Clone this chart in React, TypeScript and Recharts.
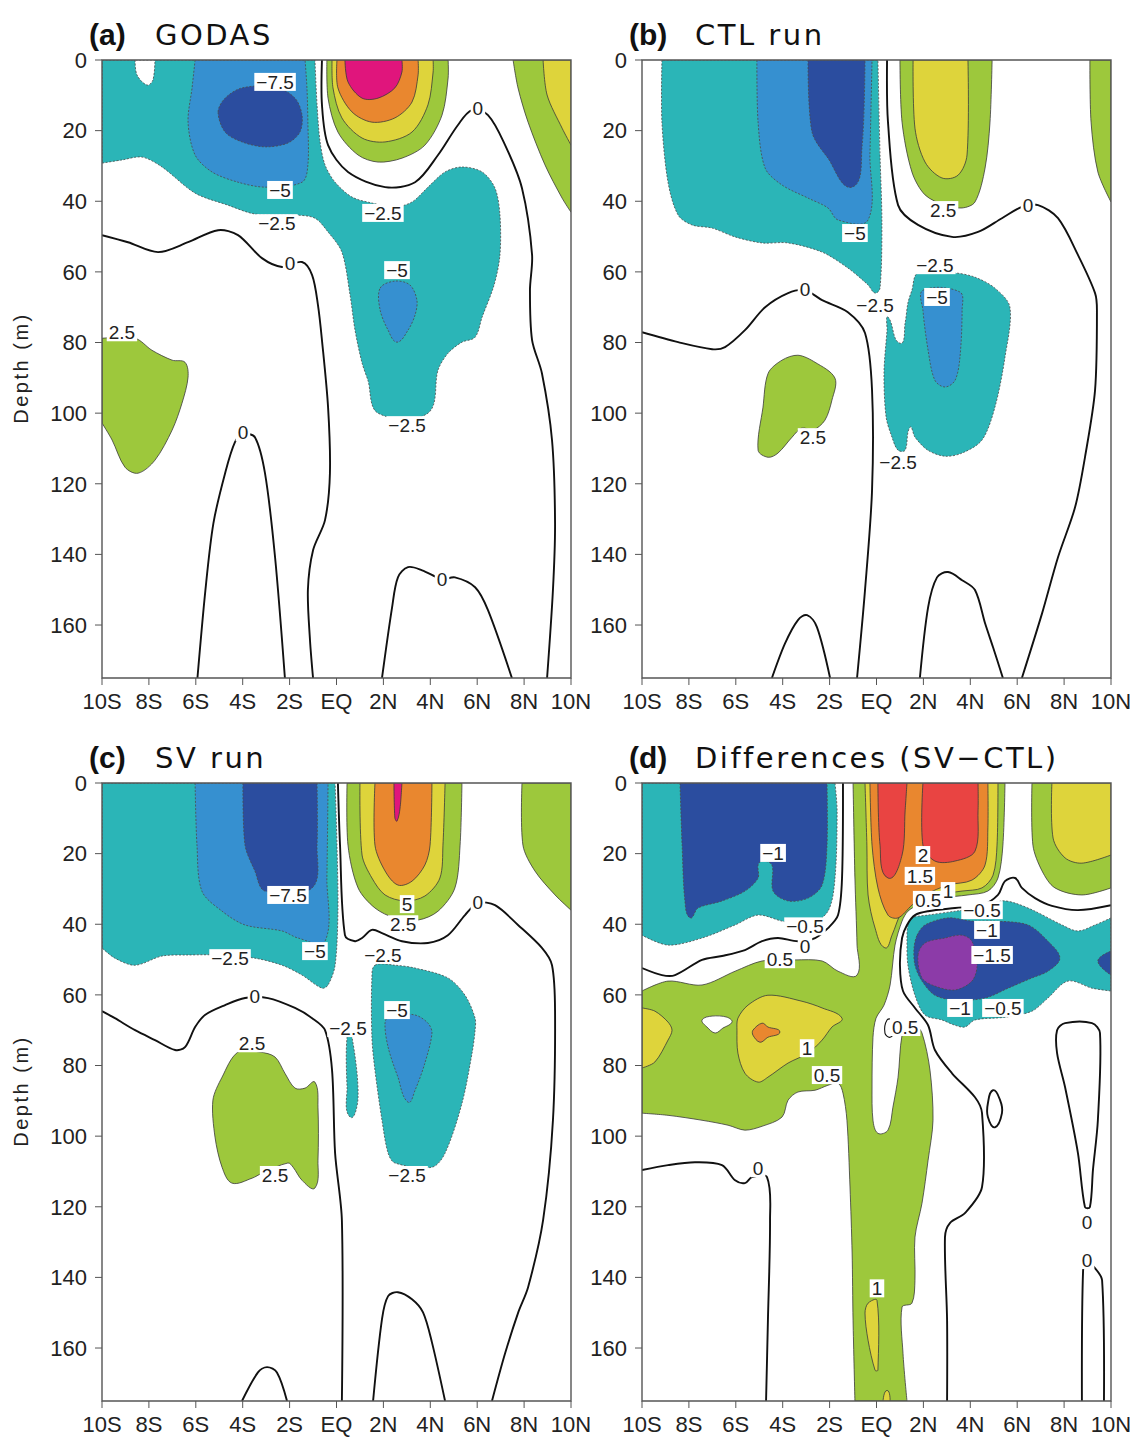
import React from 'react';
import { ScatterChart, Scatter, XAxis, YAxis } from 'recharts';

type Pt = [number, number];
type Lbl = [number, number, string];

// ---------- axes ----------
const LAT_TICKS = [-10, -8, -6, -4, -2, 0, 2, 4, 6, 8, 10];
const LAT_TICK_LABELS = ['10S', '8S', '6S', '4S', '2S', 'EQ', '2N', '4N', '6N', '8N', '10N'];
const DEPTH_TICKS = [0, 20, 40, 60, 80, 100, 120, 140, 160];
const LAT_DOMAIN: [number, number] = [-10, 10];
const DEPTH_DOMAIN: [number, number] = [0, 175];

// ---------- (a) GODAS ----------
const aCyan: Pt[] = [[-10,0],[-0.92,0],[-0.83,12.7],[-0.70,23.2],[-0.49,29.7],[-0.06,34.6],[0.66,38.8],[1.51,40.5],[2.49,41.6],[3.22,40.2],[3.90,36.0],[4.63,31.7],[5.35,30.3],[6.21,31.7],[6.76,36.3],[6.97,43.9],[6.97,55.2],[6.72,63.7],[6.21,72.8],[5.91,78.5],[5.35,79.9],[4.76,83.0],[4.33,87.8],[3.90,100],[1.77,100],[1.34,90.7],[1.09,85.8],[0.79,76.5],[0.58,66.6],[0.23,54.4],[-0.36,48.7],[-0.92,44.8],[-1.77,43.9],[-3.48,43.6],[-4.63,41.1],[-6.03,37.7],[-7.44,30.3],[-8.29,27.5],[-9.15,28.3],[-10,29.2]];
const aWhite: Pt[] = [[-8.59,0],[-8.51,4.2],[-8.08,7.1],[-7.83,5.7],[-7.74,0]];
const aBlue: Pt[] = [[-6.03,0],[-6.16,7.9],[-6.33,17.6],[-6.03,26.9],[-5.31,31.7],[-4.20,34.6],[-3.05,36.0],[-1.47,34.6],[-1.22,29.7],[-1.22,17.6],[-1.26,7.9],[-1.34,0]];
const aDBlue: Pt[] = [[-5.05,14.7],[-4.75,10.8],[-4.03,7.9],[-2.62,7.6],[-1.77,10.8],[-1.47,15.6],[-1.56,20.4],[-2.07,23.5],[-3.05,24.6],[-4.03,23.2],[-4.75,20.4]];
const aBlue2: Pt[] = [[1.86,64.6],[2.49,62.6],[3.13,63.7],[3.43,68],[3.35,72.2],[3.05,76.5],[2.58,79.9],[2.20,76.5],[1.86,70.8]];
const aGreen: Pt[] = [[-0.41,0],[-0.36,10.8],[0.06,20.4],[0.92,26.9],[1.77,28.9],[2.79,27.8],[3.77,24.1],[4.50,15.6],[4.76,5.1],[4.76,0]];
const aYellow: Pt[] = [[-0.19,0],[-0.15,7.9],[0.23,16.4],[1.09,22.1],[2.07,23.2],[3.22,20.4],[3.90,12.7],[4.12,3.4],[4.12,0]];
const aOrange: Pt[] = [[0.02,0],[0.06,7.9],[0.66,14.7],[1.51,17.6],[2.49,16.4],[3.22,11.9],[3.48,4.2],[3.48,0]];
const aPink: Pt[] = [[0.36,0],[0.49,6.2],[1.09,10.8],[1.77,10.8],[2.49,7.9],[2.79,3.4],[2.79,0]];
const aGreenR: Pt[] = [[7.53,0],[7.74,7.9],[8.17,17.6],[8.89,29.7],[9.62,39.1],[10,43.1],[10,0]];
const aYellowR: Pt[] = [[8.81,0],[8.98,9.9],[9.62,19.3],[10,24.1],[10,0]];
const aGreenL: Pt[] = [[-10,78.8],[-8.59,78.8],[-7.87,82.2],[-7.01,85],[-6.46,85.6],[-6.33,89.8],[-6.59,97.2],[-7.01,104.8],[-7.74,113.3],[-8.46,117],[-9.02,115.3],[-9.57,107.6],[-10,102.8]];
const aZero1: Pt[] = [[-0.62,0],[-0.62,12.7],[-0.36,24.1],[0.49,31.7],[2.07,36.0],[3.35,34.6],[4.33,26.9],[5.18,18.4],[5.78,14.2],[6.46,15.6],[7.19,24.1],[7.91,36.3],[8.34,55.2],[8.25,65.2],[8.34,79.3],[8.76,88.7],[9.19,107.6],[9.32,131.2],[9.23,150.1],[8.98,175]];
const aZero2: Pt[] = [[-10,49.6],[-8.89,51.6],[-7.61,54.4],[-6.33,51.6],[-5.05,48.2],[-4.20,49.6],[-3.18,56.1],[-2.32,58.6],[-1.47,57.2],[-1.04,60.9],[-0.79,69.4],[-0.62,79.3],[-0.36,98.3],[-0.28,117],[-0.49,130.3],[-1.00,138.8],[-1.22,150.1],[-1.13,164.3],[-1.00,175]];
const aZero3: Pt[] = [[-5.93,175],[-5.59,150.1],[-5.25,131.2],[-4.75,117],[-4.33,108.2],[-3.99,106],[-3.48,106.8],[-3.05,117],[-2.62,140.8],[-2.20,175]];
const aZero4: Pt[] = [[1.94,175],[2.37,155],[2.62,146.5],[3.05,143.6],[3.65,144.5],[4.50,147],[5.05,146.5],[5.91,149.3],[6.46,155.8],[7.48,175]];
const aLabels: Lbl[] = [[-2.62,6.2,'\u22127.5'],[-2.41,36.8,'\u22125'],[-2.54,46.2,'\u22122.5'],[1.98,43.3,'\u22122.5'],[2.58,59.5,'\u22125'],[3.01,103.4,'\u22122.5'],[-9.15,77.1,'2.5'],[6.03,13.6,'0'],[-1.98,57.5,'0'],[-3.99,105.4,'0'],[4.50,147,'0']];

// ---------- (b) CTL run ----------
const bCyan: Pt[] = [[-9.15,0],[-9.15,17.6],[-8.89,34.6],[-8.46,43.9],[-7.87,46.7],[-7.01,47.6],[-6.03,50.1],[-4.88,51.8],[-3.77,51.8],[-2.32,54.4],[-1.22,58.9],[-0.36,63.7],[-0.06,66],[0.15,64.6],[0.23,45.9],[0.15,26.9],[0.06,0]];
const bBlue: Pt[] = [[-5.10,0],[-5.05,17.6],[-4.75,30.6],[-4.03,35.4],[-2.92,39.1],[-2.07,41.9],[-1.64,45.3],[-0.36,45.3],[-0.28,26.9],[-0.19,0]];
const bDBlue: Pt[] = [[-2.92,0],[-2.75,20.4],[-2.07,27.8],[-1.04,36],[-0.62,24.9],[-0.49,0]];
const bGreen: Pt[] = [[1.00,0],[1.09,17.6],[1.51,31.7],[2.07,38.2],[2.92,41.1],[3.65,41.9],[4.20,40.2],[4.63,30.6],[4.84,17.6],[4.93,0]];
const bYellow: Pt[] = [[1.56,0],[1.64,19.3],[2.07,28.9],[2.79,33.4],[3.48,32.6],[3.86,26.9],[3.90,0]];
const bGreenR: Pt[] = [[9.10,0],[9.15,17.6],[9.44,31.7],[10,40.2],[10,0]];
const bGreenL: Pt[] = [[-4.62,88.7],[-4.03,85],[-3.35,83.6],[-2.62,85.6],[-1.77,90.1],[-1.90,96.3],[-2.20,102],[-2.71,104.8],[-3.18,104.2],[-3.60,106.8],[-4.20,111.3],[-4.62,112.5],[-5.05,110.5],[-4.84,98.3]];
const bCyan2: Pt[] = [[1.77,60.3],[3.35,60.3],[4.20,61.5],[5.05,64.6],[5.69,70],[5.48,84.1],[5.05,98.3],[4.50,107.6],[3.65,111.3],[2.92,112.2],[2.19,110.5],[1.64,106.8],[1.43,104],[1.22,110.5],[0.92,110.5],[0.66,106.8],[0.41,101.1],[0.32,88.7],[0.45,76.5],[0.49,72.8],[1.00,80.2],[1.22,74.5],[1.34,68.8],[1.51,65.2]];
const bBlue2: Pt[] = [[1.98,65.2],[3.56,65.7],[3.65,70.8],[3.56,84.1],[3.35,90.7],[2.92,92.6],[2.49,90.7],[2.20,82.2],[1.98,70.8]];
const bZero1: Pt[] = [[0.45,0],[0.49,17.6],[0.92,41.1],[1.77,46.7],[3.22,50.1],[4.33,48.7],[5.35,44.8],[6.20,41.6],[6.89,41.1],[7.74,44.8],[8.59,55.2],[9.32,66],[9.40,70.8],[9.32,93.5],[8.89,112.5],[8.47,126.6],[7.74,140.8],[7.06,156.7],[6.20,175]];
const bZero2: Pt[] = [[-10,77.1],[-8.46,79.9],[-7.01,81.9],[-6.46,81.3],[-5.61,76.5],[-4.75,70],[-3.77,66],[-3.05,65.2],[-2.32,68],[-1.22,71.4],[-0.49,77.3],[-0.19,93.5],[-0.19,121.8],[-0.49,150.1],[-0.83,175]];
const bZero3: Pt[] = [[-4.46,175],[-3.90,165.2],[-3.35,158.6],[-2.96,157.2],[-2.54,160.6],[-1.98,175]];
const bZero4: Pt[] = [[1.85,175],[2.20,155],[2.58,146.5],[3.05,145],[3.65,147.3],[4.20,150.1],[4.63,159.5],[4.97,166.3],[5.39,175]];
const bLabels: Lbl[] = [[-0.92,49,'\u22125'],[2.84,42.5,'2.5'],[6.46,41.1,'0'],[-3.05,65,'0'],[2.49,58.1,'\u22122.5'],[2.58,67.1,'\u22125'],[-0.06,69.4,'\u22122.5'],[-2.71,106.8,'2.5'],[0.92,113.9,'\u22122.5']];

// ---------- (c) SV run ----------
const cCyan: Pt[] = [[-10,0],[-10,46.7],[-9.45,49.6],[-8.59,51.6],[-7.44,49],[-6.33,48.7],[-4.97,48.7],[-3.48,49.6],[-2.32,51.6],[-1.47,54.4],[-0.62,58.1],[-0.36,57.2],[-0.06,51.6],[0.06,36.3],[0.02,17.6],[-0.06,0]];
const cBlue: Pt[] = [[-6.03,0],[-5.95,17.6],[-5.74,30.6],[-4.88,36.3],[-3.90,40.2],[-2.32,41.9],[-1.64,43.9],[-0.49,44.8],[-0.41,26.9],[-0.36,0]];
const cDBlue: Pt[] = [[-3.99,0],[-3.90,17.6],[-3.48,24.9],[-3.05,30.6],[-1.04,29.7],[-0.83,17.6],[-0.83,0]];
const cGreen: Pt[] = [[0.45,0],[0.49,17.6],[0.92,29.7],[1.64,35.4],[2.49,38.2],[3.48,38.8],[4.33,36.3],[5.05,29.7],[5.27,17.6],[5.35,0]];
const cYellow: Pt[] = [[1.00,0],[1.09,20.4],[1.51,26.9],[2.07,31.7],[2.92,33.4],[3.77,32],[4.41,26.9],[4.54,17.6],[4.63,0]];
const cOrange: Pt[] = [[1.64,0],[1.64,17.6],[2.07,24.9],[2.62,28.9],[3.22,27.8],[3.77,23.2],[3.99,17.6],[4.07,0]];
const cPink: Pt[] = [[2.45,0],[2.49,9.9],[2.58,10.8],[2.71,7.1],[2.79,0]];
const cGreenR: Pt[] = [[7.91,0],[7.95,17.6],[8.46,24.9],[9.32,31.7],[10,36],[10,0]];
const cGreenL: Pt[] = [[-4.20,76.2],[-3.26,76.2],[-2.62,77.6],[-2.20,82.2],[-1.77,86.4],[-1.34,86.4],[-0.92,84.7],[-0.79,91.8],[-0.79,106.8],[-0.92,114.7],[-1.47,112.5],[-1.85,108.8],[-2.07,107.6],[-3.18,110.5],[-3.60,111.9],[-4.46,113.3],[-4.88,108.8],[-5.18,100.3],[-5.27,89.8],[-4.88,83.3]];
const cSliver: Pt[] = [[0.45,72],[0.66,72],[0.92,89],[0.58,94.6],[0.45,86.1]];
const cCyan2: Pt[] = [[1.64,51.6],[2.49,51.6],[3.35,52.4],[4.75,55.2],[5.48,60.1],[5.91,66.6],[5.91,70],[5.78,76.5],[5.35,90.7],[4.63,104.8],[4.07,108.8],[2.49,107.6],[2.20,104.8],[1.94,95.5],[1.64,81.3],[1.51,72],[1.51,55.2]];
const cBlue2: Pt[] = [[2.28,65.7],[3.35,65.7],[3.90,68],[4.07,70.8],[3.77,79.3],[3.35,87],[3.05,90.4],[2.62,83.3],[2.20,74.8],[2.07,68]];
const cZero1: Pt[] = [[0.06,0],[0.15,17.6],[0.36,43.1],[0.79,44.8],[1.09,43.9],[1.51,41.6],[1.94,42.5],[2.79,44.8],[3.90,45.3],[4.75,43.1],[5.48,37.4],[6.03,34],[6.76,34.6],[7.74,40.2],[8.76,46.7],[9.19,51.6],[9.32,64.6],[9.23,95.5],[8.81,123.8],[8.17,142.8],[7.74,150.1],[7.19,161.5],[6.63,175]];
const cZero2: Pt[] = [[-10,64.6],[-9.45,66.6],[-8.59,70],[-7.74,72.8],[-6.88,75.6],[-6.46,74.8],[-6.03,69.1],[-5.61,65.7],[-4.75,62.9],[-3.90,60.9],[-2.92,60.9],[-1.77,63.7],[-1.04,66.6],[-0.49,70],[-0.19,81.3],[-0.06,104.8],[0.23,123.8],[0.23,175]];
const cZero3: Pt[] = [[-4.03,175],[-3.35,166.9],[-2.96,165.4],[-2.54,166.9],[-2.11,175]];
const cZero4: Pt[] = [[1.56,175],[1.94,151.8],[2.20,145.3],[2.62,144.2],[3.22,146.2],[3.69,149.9],[4.07,158.4],[4.63,175]];
const cLabels: Lbl[] = [[-2.07,31.7,'\u22127.5'],[-0.92,47.6,'\u22125'],[-4.54,49.6,'\u22122.5'],[1.98,48.7,'\u22122.5'],[3.01,34.3,'5'],[2.84,40.0,'2.5'],[6.03,33.7,'0'],[-3.48,60.3,'0'],[2.58,64.3,'\u22125'],[0.49,69.4,'\u22122.5'],[-3.60,73.7,'2.5'],[-2.62,111,'2.5'],[3.01,111,'\u22122.5']];

// ---------- (d) Differences (SV-CTL) ----------
const dCyanUL: Pt[] = [[-10,0],[-10,43.1],[-8.89,45.9],[-7.44,43.9],[-6.03,40.2],[-5.05,37.4],[-4.03,39.1],[-2.92,40.2],[-2.07,36.3],[-1.77,26.9],[-1.68,7.9],[-1.77,0]];
const dBlueUL: Pt[] = [[-8.38,0],[-8.29,17.6],[-8.17,33.4],[-7.95,38.2],[-7.61,35.4],[-6.59,33.4],[-5.61,30.6],[-5.05,26.9],[-5.05,23.2],[-4.88,22.1],[-4.46,23.2],[-4.41,30.6],[-3.77,33.4],[-2.92,32.6],[-2.32,28.9],[-2.11,17.6],[-2.11,0]];
const dGreen: Pt[] = [[-1.00,0],[-0.92,26.9],[-0.83,45.9],[-0.83,54.4],[-1.64,53.3],[-2.32,50.4],[-3.48,50.1],[-4.88,50.4],[-6.03,53.3],[-7.44,57.2],[-8.89,56.1],[-10,58.9],[-10,93.5],[-8.89,94.1],[-7.44,95.5],[-6.33,96.9],[-5.61,98.3],[-4.88,97.2],[-4.03,94.6],[-3.77,89.8],[-3.35,87.5],[-2.62,87],[-2.07,85.6],[-1.64,85],[-1.43,87.8],[-1.26,95.5],[-1.13,114.4],[-1.04,133.1],[-1.00,152.1],[-0.92,175],[1.30,175],[1.13,161.5],[1.09,148.4],[1.51,147.3],[1.64,140.8],[1.64,128.6],[1.94,119],[2.20,106.8],[2.41,95.5],[2.28,81.3],[1.94,70.8],[1.64,68.6],[1.34,69.1],[1.09,71.4],[0.92,83.3],[0.70,91.8],[0.49,98.3],[0.06,99.2],[-0.15,95.5],[-0.19,86.1],[-0.15,72],[-0.02,66.6],[0.32,62.9],[0.58,57.2],[0.79,45.9],[1.09,39.1],[1.34,36.3],[1.77,34.6],[2.79,32.6],[3.90,31.7],[4.75,30.6],[5.18,26.9],[5.39,17.6],[5.48,0]];
const dWhiteHole: Pt[] = [[-7.44,67.1],[-7.01,66],[-6.38,66.3],[-6.16,67.7],[-6.55,69.4],[-6.88,70.8],[-7.23,69.1]];
const dYellowL: Pt[] = [[-10,63.7],[-9.45,64.6],[-8.89,67.7],[-8.72,70],[-8.89,72.8],[-9.45,79],[-10,80.7]];
const dYellowMid: Pt[] = [[-5.91,66.6],[-5.48,62.9],[-4.63,60.1],[-3.18,61.8],[-2.32,63.7],[-1.47,66.6],[-1.90,69.1],[-2.32,72.8],[-2.92,76.5],[-3.77,79.3],[-4.63,83.3],[-5.05,84.7],[-5.61,82.2],[-5.91,76.5],[-5.95,70]];
const dOrangeSmall: Pt[] = [[-5.27,70],[-4.88,68],[-4.63,69.1],[-4.12,70.5],[-4.63,72],[-4.97,73.4],[-5.27,71.4]];
const dYellowC: Pt[] = [[-0.49,0],[-0.41,17.6],[-0.36,31.7],[-0.06,41.1],[0.36,46.7],[0.66,43.1],[1.09,36.3],[1.64,33.4],[2.49,31.7],[3.65,30.6],[4.50,29.7],[4.97,26.1],[5.14,17.6],[5.18,0]];
const dOrangeC: Pt[] = [[-0.28,0],[-0.19,17.6],[0.06,29.7],[0.49,37.4],[0.92,38.2],[1.51,34.6],[2.07,31.7],[3.05,28.9],[4.07,27.5],[4.63,23.2],[4.75,12.7],[4.75,0]];
const dRedL: Pt[] = [[0.06,0],[0.15,17.6],[0.49,26.9],[1.09,20.4],[1.22,7.9],[1.30,0]];
const dRedR: Pt[] = [[1.98,0],[1.98,17.6],[2.49,22.1],[3.35,22.1],[4.20,19.3],[4.33,7.9],[4.33,0]];
const dYellowCol: Pt[] = [[-0.49,150.1],[-0.36,147.3],[0.02,146.5],[0.06,166.3],[-0.06,166.3],[-0.36,157.8]];
const dYellowBot: Pt[] = [[0.28,175],[0.45,172],[0.58,175]];
const dGreenR: Pt[] = [[6.63,0],[6.67,17.6],[7.06,24.9],[7.61,29.7],[8.76,31.7],[10,29.7],[10,0]];
const dYellowR: Pt[] = [[7.48,0],[7.53,15.6],[8.04,21.2],[8.76,22.7],[10,20.4],[10,0]];
const dCyanR: Pt[] = [[1.34,40.2],[1.51,38.2],[2.20,37.4],[3.35,36.3],[4.33,35.4],[5.35,33.4],[5.91,34],[6.76,36.3],[7.91,40.2],[8.59,41.9],[9.32,40.2],[10,38.2],[10,58.9],[9.19,58.1],[8.17,56.1],[7.31,60.9],[6.63,64.6],[5.5,66.3],[4.20,67.1],[3.77,69.1],[3.35,68.6],[2.79,67.1],[2.07,65.7],[1.64,60.1],[1.34,51.6],[1.30,43.9]];
const dBlueR: Pt[] = [[1.73,43.1],[2.07,40.2],[3.05,38.2],[4.07,39.1],[5.05,39.1],[6.46,40.2],[7.31,44.8],[7.82,49.6],[7.31,53.3],[6.63,55.2],[5.61,58.1],[4.63,60.9],[3.35,61.5],[2.49,60.1],[1.94,56.1],[1.64,51.6],[1.60,46.7]];
const dBlueEdge: Pt[] = [[9.44,50.4],[10,47.6],[10,54.4]];
const dPurple: Pt[] = [[1.77,48.7],[2.07,45.3],[2.92,43.9],[3.65,43.1],[4.07,44.8],[4.29,51.6],[4.07,56.1],[3.35,58.6],[2.49,57.5],[1.94,55.2]];
const dZeroA: Pt[] = [[-10,52.4],[-9.15,54.4],[-8.59,54.4],[-7.44,50.1],[-6.59,49],[-5.61,47.3],[-4.88,44.8],[-4.20,43.9],[-3.35,44.8],[-2.62,43.9],[-2.07,41.1],[-1.64,37.4],[-1.47,26.9],[-1.43,0]];
const dZeroB: Pt[] = [[10,34.6],[8.59,36],[7.48,34.8],[6.76,32.6],[6.20,29.7],[5.91,26.9],[5.48,27.8],[5.18,31.7],[4.50,34.6],[3.35,35.4],[2.20,36.3],[1.64,37.4],[1.30,40.2],[1.09,43.9],[1.00,51.6],[1.13,58.9],[1.64,63.7],[2.20,68.6],[2.49,75.6],[3.22,82.2],[4.20,89],[4.50,93.5],[4.50,114.4],[3.77,121.8],[3.13,124.6],[2.92,128.6],[3.01,152.1],[3.01,175]];
const dZeroC: Pt[] = [[-10,109.6],[-8.89,108.2],[-7.74,107.4],[-6.59,108.2],[-6.03,112.5],[-5.61,113.3],[-5.31,111.6],[-4.67,111.6],[-4.54,123.8],[-4.63,152.1],[-4.71,175]];
const dZeroE: Pt[] = [[4.75,90.7],[4.97,87],[5.27,89.8],[5.35,93.5],[5.05,97.5],[4.75,94.6]];
const dZeroF: Pt[] = [[7.70,70],[8.04,68],[9.19,68],[9.53,70.8],[9.44,95.5],[9.23,109.6],[9.10,120.1],[8.89,120.1],[8.59,104.8],[8.04,86.1],[7.70,76.5]];
const dZeroG: Pt[] = [[8.76,175],[8.81,138],[8.98,135.7],[9.32,137.4],[9.62,140.8],[9.70,175]];
const dLoop05: Pt[] = [[0.45,67.1],[0.36,70.8],[0.58,72],[0.79,70],[0.70,67.1]];
const dLabels: Lbl[] = [[-4.41,19.8,'\u22121'],[-3.05,46.3,'0'],[-3.05,40.6,'\u22120.5'],[-4.12,49.9,'0.5'],[1.98,20.4,'2'],[1.85,26.3,'1.5'],[3.05,30.6,'1'],[2.20,33.1,'0.5'],[4.71,41.6,'\u22121'],[4.50,36.0,'\u22120.5'],[4.93,48.7,'\u22121.5'],[3.56,63.7,'\u22121'],[5.39,63.7,'\u22120.5'],[1.22,69.1,'0.5'],[-2.96,75.1,'1'],[-2.11,82.7,'0.5'],[-5.05,109.1,'0'],[0.02,143.1,'1'],[8.98,124.4,'0'],[8.98,135.1,'0']];

// ---------- styling ----------
const COL: Record<string, string> = {
  cyan: '#2bb5b7', blue: '#3690d0', dblue: '#2b4d9f', green: '#9dc83c', yellow: '#ded43b',
  orange: '#e9872f', pink: '#e0157c', red: '#e94442', purple: '#8c3ba8', white: '#ffffff',
};
const FONT_SANS = '"Liberation Sans", Arial, Helvetica, sans-serif';
const FONT_TITLE = '"DejaVu Sans", "Liberation Sans", sans-serif';

type FillSpec = { pts: Pt[]; c: string; neg?: boolean };
type LineSpec = { pts: Pt[]; closed?: boolean; thin?: boolean };
type PanelSpec = { tag: string; title: string; left: number; top: number; depthLabel: boolean; fills: FillSpec[]; lines: LineSpec[]; labels: Lbl[] };

// chart geometry
const CH_W = 589;
const CH_H = 710;
const MARGIN = { top: 20, right: 20, bottom: 32, left: 40 };
const Y_AXIS_W = 60;
const X_AXIS_H = 40;
const PLOT = { x: MARGIN.left + Y_AXIS_W, y: MARGIN.top, w: CH_W - MARGIN.left - Y_AXIS_W - MARGIN.right, h: CH_H - MARGIN.top - MARGIN.bottom - X_AXIS_H };

const PANELS: PanelSpec[] = [
  {
    tag: '(a)', title: 'GODAS', left: 2, top: 40, depthLabel: true,
    fills: [
      { pts: aCyan, c: 'cyan', neg: true }, { pts: aWhite, c: 'white', neg: true }, { pts: aBlue, c: 'blue', neg: true },
      { pts: aDBlue, c: 'dblue', neg: true }, { pts: aBlue2, c: 'blue', neg: true }, { pts: aGreen, c: 'green' },
      { pts: aYellow, c: 'yellow' }, { pts: aOrange, c: 'orange' }, { pts: aPink, c: 'pink' },
      { pts: aGreenR, c: 'green' }, { pts: aYellowR, c: 'yellow' }, { pts: aGreenL, c: 'green' },
    ],
    lines: [{ pts: aZero1 }, { pts: aZero2 }, { pts: aZero3 }, { pts: aZero4 }],
    labels: aLabels,
  },
  {
    tag: '(b)', title: 'CTL run', left: 542, top: 40, depthLabel: false,
    fills: [
      { pts: bCyan, c: 'cyan', neg: true }, { pts: bBlue, c: 'blue', neg: true }, { pts: bDBlue, c: 'dblue', neg: true },
      { pts: bCyan2, c: 'cyan', neg: true }, { pts: bBlue2, c: 'blue', neg: true }, { pts: bGreen, c: 'green' },
      { pts: bYellow, c: 'yellow' }, { pts: bGreenR, c: 'green' }, { pts: bGreenL, c: 'green' },
    ],
    lines: [{ pts: bZero1 }, { pts: bZero2 }, { pts: bZero3 }, { pts: bZero4 }],
    labels: bLabels,
  },
  {
    tag: '(c)', title: 'SV run', left: 2, top: 763, depthLabel: true,
    fills: [
      { pts: cCyan, c: 'cyan', neg: true }, { pts: cBlue, c: 'blue', neg: true }, { pts: cDBlue, c: 'dblue', neg: true },
      { pts: cCyan2, c: 'cyan', neg: true }, { pts: cBlue2, c: 'blue', neg: true }, { pts: cSliver, c: 'cyan', neg: true },
      { pts: cGreen, c: 'green' }, { pts: cYellow, c: 'yellow' }, { pts: cOrange, c: 'orange' }, { pts: cPink, c: 'pink' },
      { pts: cGreenR, c: 'green' }, { pts: cGreenL, c: 'green' },
    ],
    lines: [{ pts: cZero1 }, { pts: cZero2 }, { pts: cZero3 }, { pts: cZero4 }],
    labels: cLabels,
  },
  {
    tag: '(d)', title: 'Differences (SV\u2212CTL)', left: 542, top: 763, depthLabel: false,
    fills: [
      { pts: dCyanUL, c: 'cyan', neg: true }, { pts: dBlueUL, c: 'dblue', neg: true }, { pts: dGreen, c: 'green' },
      { pts: dWhiteHole, c: 'white' }, { pts: dYellowL, c: 'yellow' }, { pts: dYellowMid, c: 'yellow' },
      { pts: dOrangeSmall, c: 'orange' }, { pts: dYellowC, c: 'yellow' }, { pts: dOrangeC, c: 'orange' },
      { pts: dRedL, c: 'red' }, { pts: dRedR, c: 'red' }, { pts: dYellowCol, c: 'yellow' }, { pts: dYellowBot, c: 'yellow' },
      { pts: dGreenR, c: 'green' }, { pts: dYellowR, c: 'yellow' }, { pts: dCyanR, c: 'cyan', neg: true },
      { pts: dBlueR, c: 'dblue', neg: true }, { pts: dBlueEdge, c: 'dblue', neg: true }, { pts: dPurple, c: 'purple', neg: true },
    ],
    lines: [
      { pts: dZeroA }, { pts: dZeroB }, { pts: dZeroC }, { pts: dZeroE, closed: true }, { pts: dZeroF, closed: true },
      { pts: dZeroG }, { pts: dLoop05, closed: true, thin: true },
    ],
    labels: dLabels,
  },
];

function onEdge(p: Pt) {
  return p[0] <= LAT_DOMAIN[0] || p[0] >= LAT_DOMAIN[1] || p[1] <= DEPTH_DOMAIN[0] || p[1] >= DEPTH_DOMAIN[1];
}

function buildPath(px: { x: number; y: number }[], raw: Pt[], closed: boolean, s = 0.3) {
  const n = px ? px.length : 0;
  if (n < 2) return '';
  const idx = (i: number) => (closed ? (i + n) % n : Math.max(0, Math.min(n - 1, i)));
  const f = (v: number) => v.toFixed(2);
  let d = `M${f(px[0].x)},${f(px[0].y)}`;
  const segs = closed ? n : n - 1;
  for (let i = 0; i < segs; i++) {
    const i0 = idx(i - 1), i1 = idx(i), i2 = idx(i + 1), i3 = idx(i + 2);
    const p0 = px[i0], p1 = px[i1], p2 = px[i2], p3 = px[i3];
    const e1 = onEdge(raw[i1]), e2 = onEdge(raw[i2]);
    if (e1 && e2) { d += `L${f(p2.x)},${f(p2.y)}`; continue; }
    const L = Math.hypot(p2.x - p1.x, p2.y - p1.y);
    let c1 = { x: p1.x, y: p1.y };
    let c2 = { x: p2.x, y: p2.y };
    if (!e1) {
      const dx = p2.x - p0.x, dy = p2.y - p0.y; const m = Math.hypot(dx, dy) || 1;
      c1 = { x: p1.x + (dx / m) * L * s, y: p1.y + (dy / m) * L * s };
    }
    if (!e2) {
      const dx = p3.x - p1.x, dy = p3.y - p1.y; const m = Math.hypot(dx, dy) || 1;
      c2 = { x: p2.x - (dx / m) * L * s, y: p2.y - (dy / m) * L * s };
    }
    d += `C${f(c1.x)},${f(c1.y)} ${f(c2.x)},${f(c2.y)} ${f(p2.x)},${f(p2.y)}`;
  }
  if (closed) d += 'Z';
  return d;
}

const noShape = () => <g />;

function labelWidth(t: string, fs: number) {
  let w = 0;
  for (const ch of t) w += ch === '.' ? 0.278 : ch === '\u2212' ? 0.584 : 0.556;
  return w * fs + 4;
}

function LabelShape(props: any) {
  const { cx, cy } = props;
  const t: string = (props.payload && props.payload.t) || props.t || '';
  const fs = 19;
  const w = labelWidth(t, fs);
  return (
    <g>
      <rect x={cx - w / 2} y={cy - 9} width={w} height={18} fill="#ffffff" />
      <text x={cx} y={cy + fs * 0.36} textAnchor="middle" fontSize={fs} fontFamily={FONT_SANS} fill="#222">{t}</text>
    </g>
  );
}

const fmtLat = (v: number) => {
  const i = LAT_TICKS.indexOf(v);
  return i >= 0 ? LAT_TICK_LABELS[i] : String(v);
};

function toData(pts: Pt[]) {
  return pts.map(([x, y]) => ({ x, y }));
}

function Panel({ spec, pi }: { spec: PanelSpec; pi: number }) {
  const frame: Pt[] = [
    [LAT_DOMAIN[0], DEPTH_DOMAIN[0]], [LAT_DOMAIN[1], DEPTH_DOMAIN[0]],
    [LAT_DOMAIN[1], DEPTH_DOMAIN[1]], [LAT_DOMAIN[0], DEPTH_DOMAIN[1]],
  ];
  const clipId = `plotclip-${pi}`;
  const tickStyle = { fontSize: 22, fill: '#222', fontFamily: FONT_SANS };
  return (
    <div style={{ position: 'absolute', left: spec.left, top: spec.top, width: CH_W, height: CH_H }}>
      <ScatterChart width={CH_W} height={CH_H} margin={MARGIN}>
        <XAxis type="number" dataKey="x" domain={LAT_DOMAIN} ticks={LAT_TICKS}
          interval={0} tickFormatter={fmtLat} axisLine={false} tickLine={{ stroke: '#555' }} tickSize={7} tickMargin={8}
          height={X_AXIS_H} tick={tickStyle} />
        <YAxis type="number" dataKey="y" domain={DEPTH_DOMAIN} reversed ticks={DEPTH_TICKS}
          interval={0} axisLine={false} tickLine={{ stroke: '#555' }} tickSize={7} tickMargin={8} width={Y_AXIS_W} tick={tickStyle} />
        {spec.fills.map((fl, i) => (
          <Scatter key={`f${pi}-${i}`} data={toData(fl.pts)} isAnimationActive={false}
            shape={noShape} lineType="joint" legendType="none"
            line={(lp: any) => (
              <g>
                {i === 0 && (
                  <defs>
                    <clipPath id={clipId}><rect x={PLOT.x} y={PLOT.y} width={PLOT.w} height={PLOT.h} /></clipPath>
                  </defs>
                )}
                <path d={buildPath(lp.points, fl.pts, true)} fill={COL[fl.c]} clipPath={`url(#${clipId})`}
                  stroke={fl.neg ? '#4a4a4a' : '#3a3a3a'} strokeWidth={0.8}
                  strokeDasharray={fl.neg ? '2 1.6' : undefined} />
              </g>
            )} />
        ))}
        {spec.lines.map((ln, i) => (
          <Scatter key={`l${pi}-${i}`} data={toData(ln.pts)} isAnimationActive={false}
            shape={noShape} lineType="joint" legendType="none"
            line={(lp: any) => (
              <path d={buildPath(lp.points, ln.pts, !!ln.closed)} fill="none" stroke="#111" clipPath={`url(#${clipId})`}
                strokeWidth={ln.thin ? 1.1 : 1.9} strokeLinejoin="round" />
            )} />
        ))}
        <Scatter key={`lab${pi}`} data={spec.labels.map(([x, y, t]) => ({ x, y, t }))}
          isAnimationActive={false} shape={(p: any) => <LabelShape {...p} />} legendType="none" />
        <Scatter key={`frame${pi}`} data={toData(frame)} isAnimationActive={false}
          shape={noShape} lineType="joint" legendType="none"
          line={(lp: any) => {
            const pts = lp.points || [];
            const d = pts.map((p: any, k: number) => `${k ? 'L' : 'M'}${p.x},${p.y}`).join('') + 'Z';
            return <path d={d} fill="none" stroke="#555" strokeWidth={1.4} />;
          }} />
      </ScatterChart>
    </div>
  );
}

export default function App() {
  return (
    <div style={{ position: 'absolute', left: 0, top: 0, width: 1138, height: 1437, background: '#fff', overflow: 'hidden' }}>
      <svg width={1138} height={1437} style={{ position: 'absolute', left: 0, top: 0 }}>
        {PANELS.map((p, i) => (
          <g key={`t${i}`}>
            <text x={p.left + 87} y={p.top + MARGIN.top - 15} fontSize={30} fontWeight="bold" fontFamily={FONT_SANS} fill="#111">{p.tag}</text>
            <text x={p.left + 153} y={p.top + MARGIN.top - 15} fontSize={29} fontFamily={FONT_TITLE} letterSpacing={2.5} fill="#111">{p.title}</text>
            {p.depthLabel && (
              <text transform={`translate(28,${p.top + MARGIN.top + 308}) rotate(-90)`} textAnchor="middle" fontSize={20}
                letterSpacing={2.5} fontFamily={FONT_SANS} fill="#222">Depth (m)</text>
            )}
          </g>
        ))}
      </svg>
      {PANELS.map((p, i) => <Panel key={`p${i}`} spec={p} pi={i} />)}
    </div>
  );
}
